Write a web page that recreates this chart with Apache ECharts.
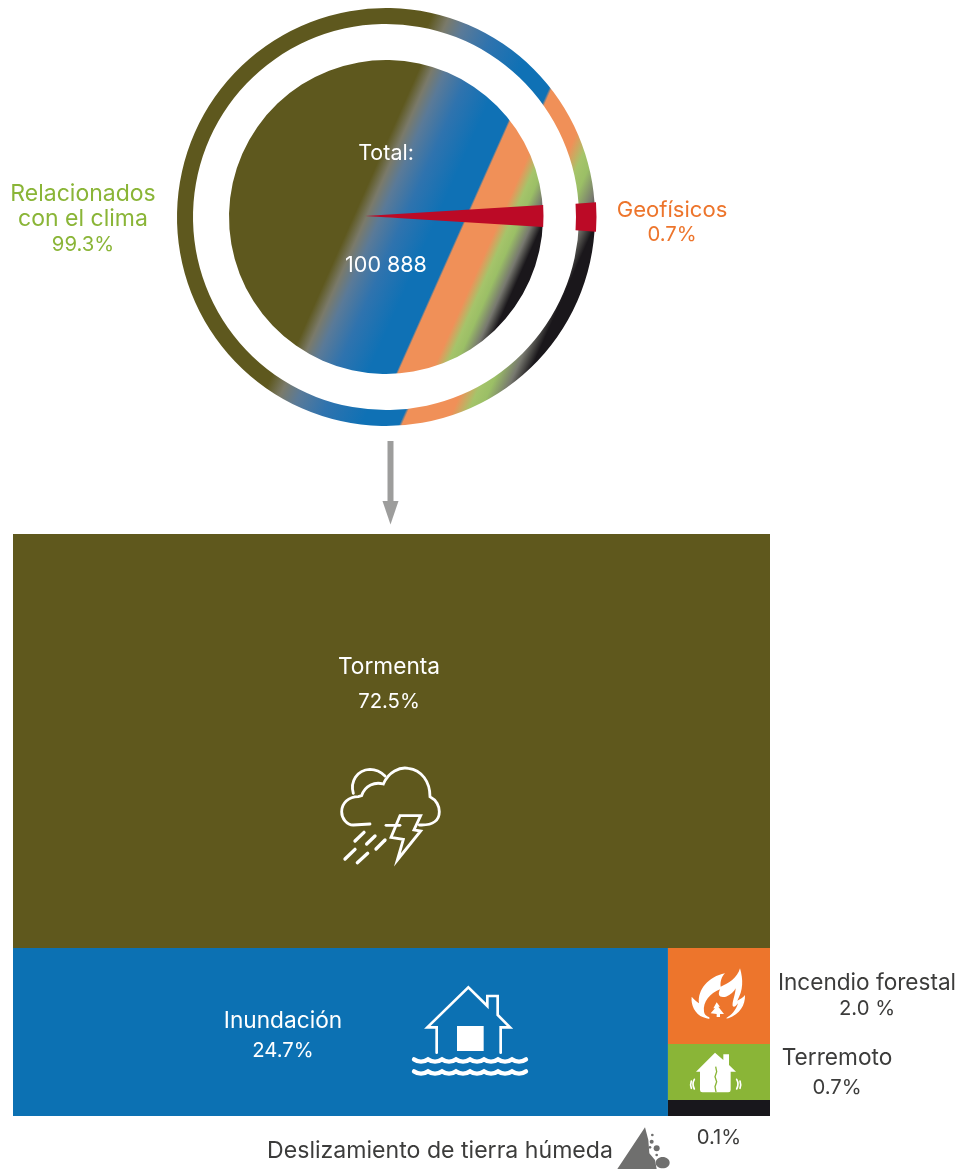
<!DOCTYPE html>
<html><head><meta charset="utf-8">
<style>html,body{margin:0;padding:0;background:#fff}#c{width:959px;height:1169px}</style>
<script src="https://cdn.jsdelivr.net/npm/echarts@6/dist/echarts.min.js"></script>
</head><body><div id="c"></div>
<script>
// ---- data ----
const groupNames = ['Relacionados con el clima', 'Geofísicos'];
const groupShares = [99.3, 0.7];
const totalEvents = '100 888';
const tileNames = ['Tormenta', 'Inundación', 'Incendio forestal', 'Terremoto', 'Deslizamiento de tierra húmeda'];
const tileLabels = ['72.5%', '24.7%', '2.0 %', '0.7%', '0.1%'];
const tileColors = ['#5F581D', '#0C71B3', '#ED752C', '#8AB537', '#18171C'];
// drawn proportions of the treemap (percent of each split)
const rowShares = [71.13, 28.87];
const bottomRowShares = [86.52, 13.48];
const sideColumnShares = [57.14, 33.33, 9.53];

const FONT = 'Inter, "Open Sans", sans-serif';
const DARK = '#3C3C3B', GREEN = '#8AB537', ORANGE = '#ED752C', RED = '#BC0A26';
const CX = 386, CY = 217;

function ringGradient(r) {
  const nx = 0.9135, ny = 0.4067;
  const stops = [
    [-157, '#5E581E'], [-30, '#5E581E'], [-18, '#7A7A6A'], [-5, '#5A7A98'], [17, '#2F73AE'], [47, '#0F71B5'], [72.5, '#0F71B5'],
    [74.5, '#F09058'], [105, '#F09058'], [116, '#A5C46A'], [124, '#9BBF66'], [136, '#77786F'], [146, '#1A171B'], [157, '#1A171B']
  ];
  return {
    type: 'linear', global: true,
    x: CX - r * nx, y: CY - r * ny, x2: CX + r * nx, y2: CY + r * ny,
    colorStops: stops.map(s => ({ offset: (s[0] + 157) / 314, color: s[1] }))
  };
}
function splitPie(radius, gradient) {
  return {
    type: 'pie', silent: true, center: [CX, CY], radius, startAngle: 1.26, clockwise: true,
    label: { show: false }, labelLine: { show: false }, animation: false,
    itemStyle: { color: gradient, borderWidth: 0 },
    data: [
      { name: groupNames[1], value: groupShares[1] },
      { name: groupNames[0], value: groupShares[0] }
    ]
  };
}
function markerPie(center, radius, half) {
  return {
    type: 'pie', silent: true, center, radius, startAngle: half, endAngle: -half, clockwise: true,
    label: { show: false }, labelLine: { show: false }, animation: false,
    itemStyle: { color: RED, borderWidth: 0 },
    data: [{ name: groupNames[1], value: groupShares[1] }]
  };
}

// tile bounds in axis units
const r0 = rowShares[0];
const xSplit = bottomRowShares[0];
const ySide1 = r0 + rowShares[1] * sideColumnShares[0] / 100;
const ySide2 = ySide1 + rowShares[1] * sideColumnShares[1] / 100;
const tileData = [
  [0, 100, 0, r0], [0, xSplit, r0, 100], [xSplit, 100, r0, ySide1], [xSplit, 100, ySide1, ySide2], [xSplit, 100, ySide2, 100]
];

// icons, in 3x crop units
const stormStroke = [
  'M150 222 L100 225 C80 225 65 205 65 185 C65 160 85 140 115 140 L125 137 C135 105 165 95 190 102 C205 65 240 50 265 55 C305 60 330 95 330 140 C350 150 358 170 358 185 C358 210 340 225 305 225 L298 225',
  'M198 226 L240 226',
  'M100 130 C90 95 110 60 150 58 C170 58 185 68 195 78',
  'M240 197 L302 197 L282 240 L302 243 L232 330 L250 268 L213 262 Z'
];
const stormRain = ['M105 273 L132 247', 'M140 282 L165 258', 'M168 297 L195 270', 'M75 327 L105 298', 'M112 338 L143 310'];
const floodRoof = 'M110 248 L110 172 L82 172 L205 52 L262 108 L262 78 L293 78 L293 135 L330 172 L302 172 L302 248';
const waves = y => 'M42 ' + y + ' Q63 ' + (y + 14) + ' 84 ' + y + ' Q105 ' + (y + 14) + ' 126 ' + y + ' Q147 ' + (y + 14) + ' 168 ' + y + ' Q189 ' + (y + 14) + ' 210 ' + y + ' Q231 ' + (y + 14) + ' 252 ' + y + ' Q273 ' + (y + 14) + ' 294 ' + y + ' Q315 ' + (y + 14) + ' 336 ' + y + ' Q357 ' + (y + 14) + ' 378 ' + y;
const flameOuter = 'M420 85 C430 120 430 150 412 182 C420 178 430 172 435 165 C436 195 420 222 385 235 C360 240 330 240 310 232 C285 222 272 195 275 170 C282 178 290 185 297 190 C292 150 325 110 375 100 C365 110 360 125 362 140 C385 130 412 115 420 85 Z';
const flameHole = 'M312 215 C308 185 330 160 360 148 C352 165 358 175 378 170 C392 165 402 155 407 145 C406 165 396 185 398 198 C402 204 408 198 414 190 C408 210 395 225 380 233 L378 242 L328 242 L328 232 C318 228 313 222 312 215 Z';
const pineTree = 'M350 187 L360 200 L355 200 L372 222 L360 222 L360 231 L350 231 L350 222 L332 220 L345 205 L340 205 Z';
const quakeHouse = 'M345 338 L370 360 L370 343 L387 343 L387 375 L408 395 L392 395 L392 450 Q392 457 385 457 L307 457 Q300 457 300 450 L300 395 L288 395 Z';
const quakeCrack = 'M347 380 L350 395 L345 410 L350 425 L345 440 L348 456';
const quakeWaves = ['M283 418 Q275 432 283 447', 'M274 423 Q270 434 274 445', 'M410 418 Q418 432 410 447', 'M420 423 Q424 434 420 445'];
const slideRock = 'M135 562 L145 600 L148 640 L165 660 L170 687 L52 687 Z';

function iconGroup(x, y, children) {
  return { type: 'group', x, y, scaleX: 1 / 3, scaleY: 1 / 3, children };
}
const white = (pathData, w) => ({ type: 'path', shape: { pathData }, style: { fill: null, stroke: '#fff', lineWidth: w, lineCap: 'round', lineJoin: 'miter' } });
const solid = (pathData, fill) => ({ type: 'path', shape: { pathData }, style: { fill } });

const chart = echarts.init(document.getElementById('c'), null, { renderer: 'canvas' });

function txt(text, x, y, color, size) {
  return { type: 'text', x, y: y + 1, z: 100, silent: true, style: { text, fill: color, font: '400 ' + size + 'px ' + FONT, textAlign: 'center', textVerticalAlign: 'middle' } };
}

chart.setOption({
  animation: false,
  backgroundColor: '#fff',
  grid: { left: 13, top: 534, width: 757, height: 582 },
  xAxis: { type: 'value', min: 0, max: 100, show: false },
  yAxis: { type: 'value', min: 0, max: 100, inverse: true, show: false },
  series: [
    splitPie([0, 157], ringGradient(157)),
    splitPie([193, 209], ringGradient(209)),
    markerPie([365, 216], [0, 178.5], 3.55),
    markerPie([386, 217], [190, 210.5], 4),
    {
      type: 'custom', silent: true, clip: false,
      coordinateSystem: 'cartesian2d',
      encode: { x: [0, 1], y: [2, 3] },
      data: tileData,
      renderItem(params, api) {
        const a = api.coord([api.value(0), api.value(2)]);
        const b = api.coord([api.value(1), api.value(3)]);
        return { type: 'rect', shape: { x: a[0], y: a[1], width: b[0] - a[0], height: b[1] - a[1] }, style: { fill: tileColors[params.dataIndex] } };
      }
    },
    {
      type: 'custom', silent: true, coordinateSystem: 'none', data: [0], clip: false, z: 5,
      renderItem() {
        return {
          type: 'group', children: [
            iconGroup(320, 750, stormStroke.map(p => white(p, 8.5)).concat(stormRain.map(p => white(p, 10)))),
            iconGroup(400, 970, [
              white(floodRoof, 8),
              { type: 'rect', shape: { x: 171, y: 168, width: 80, height: 75 }, style: { fill: '#fff' } },
              white(waves(268), 13), white(waves(304), 13)
            ]),
            iconGroup(600, 940, [
              solid(flameOuter, '#fff'), solid(flameHole, ORANGE), solid(pineTree, '#fff'),
              solid(quakeHouse, '#fff'),
              { type: 'path', shape: { pathData: quakeCrack }, style: { fill: null, stroke: GREEN, lineWidth: 4 } }
            ].concat(quakeWaves.map(p => white(p, 5))).concat([
              solid(slideRock, '#6F6F6E'),
              { type: 'circle', shape: { cx: 157, cy: 585, r: 4 }, style: { fill: '#6F6F6E' } },
              { type: 'circle', shape: { cx: 155, cy: 605, r: 6 }, style: { fill: '#6F6F6E' } },
              { type: 'circle', shape: { cx: 150, cy: 622, r: 4 }, style: { fill: '#6F6F6E' } },
              { type: 'circle', shape: { cx: 170, cy: 625, r: 9 }, style: { fill: '#6F6F6E' } },
              { type: 'circle', shape: { cx: 170, cy: 645, r: 4 }, style: { fill: '#6F6F6E' } },
              { type: 'ellipse', shape: { cx: 188, cy: 668, rx: 21, ry: 17 }, style: { fill: '#6F6F6E' } }
            ]))
          ]
        };
      }
    }
  ],
  graphic: [
    { type: 'rect', shape: { x: 387.5, y: 441, width: 6, height: 62 }, style: { fill: '#9D9D9C' }, silent: true },
    { type: 'polygon', shape: { points: [[382.5, 501], [398.5, 501], [390.5, 524.5]] }, style: { fill: '#9D9D9C' }, silent: true },
    txt('Total:', 386, 153, '#fff', 21.5), txt(totalEvents, 386, 265, '#fff', 21.5),
    txt('Relacionados', 83, 193, GREEN, 23), txt('con el clima', 83, 218, GREEN, 23), txt(groupShares[0] + '%', 83, 244, GREEN, 20.3),
    txt(groupNames[1], 672, 209, ORANGE, 22.1), txt(groupShares[1] + '%', 672, 234, ORANGE, 20.3),
    txt(tileNames[0], 389, 666, '#fff', 22.7), txt(tileLabels[0], 389, 701, '#fff', 20.3),
    txt(tileNames[1], 283, 1020, '#fff', 22.7), txt(tileLabels[1], 283, 1050, '#fff', 20.3),
    txt(tileNames[2], 867, 982, DARK, 22.6), txt(tileLabels[2], 867, 1008, DARK, 20.3),
    txt(tileNames[3], 837, 1057, DARK, 22.7), txt(tileLabels[3], 837, 1087, DARK, 20.3),
    txt(tileLabels[4], 719, 1137, DARK, 20.3), txt(tileNames[4], 440, 1150, DARK, 23.1)
  ]
});
</script></body></html>
